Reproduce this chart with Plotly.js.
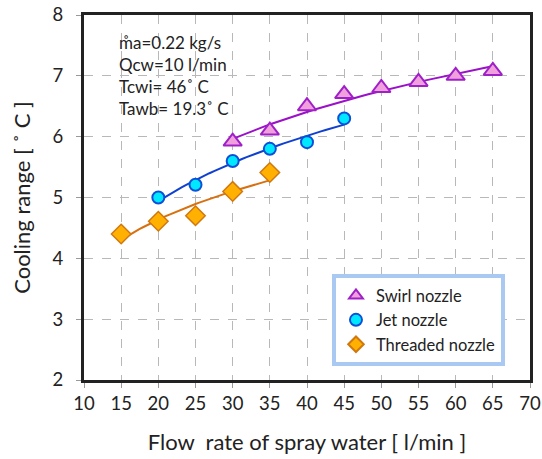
<!DOCTYPE html>
<html><head><meta charset="utf-8">
<script src="https://cdn.plot.ly/plotly-3.0.1.min.js"></script>
<style>html,body{margin:0;padding:0;background:#fff}#c{width:542px;height:459px}</style>
</head><body><div id="c"></div>
<script>
const swirlX = [30, 35, 40, 45, 50, 55, 60, 65];
const swirlY = [5.92, 6.1, 6.5, 6.7, 6.8, 6.9, 7.0, 7.08];
const jetX = [20, 25, 30, 35, 40, 45];
const jetY = [5.0, 5.21, 5.6, 5.8, 5.91, 6.3];
const thrX = [15, 20, 25, 30, 35];
const thrY = [4.4, 4.61, 4.7, 5.1, 5.41];
const xTicks = [10, 15, 20, 25, 30, 35, 40, 45, 50, 55, 60, 65, 70];
const yTicks = [2, 3, 4, 5, 6, 7, 8];

// logarithmic least-squares trendline (as in the spreadsheet chart)
function logFit(xs, ys) {
  const n = xs.length, lx = xs.map(Math.log);
  const mx = lx.reduce((a, b) => a + b, 0) / n, my = ys.reduce((a, b) => a + b, 0) / n;
  let sxy = 0, sxx = 0;
  for (let i = 0; i < n; i++) { sxy += (lx[i] - mx) * (ys[i] - my); sxx += (lx[i] - mx) ** 2; }
  const a = sxy / sxx, b = my - a * mx;
  const x0 = xs[0], x1 = xs[n - 1], tx = [], ty = [];
  for (let k = 0; k <= 40; k++) { const x = x0 + (x1 - x0) * k / 40; tx.push(x); ty.push(a * Math.log(x) + b); }
  return {x: tx, y: ty};
}
const fS = logFit(swirlX, swirlY), fJ = logFit(jetX, jetY), fT = logFit(thrX, thrY);

const font = 'Lato, "Open Sans", sans-serif';
const traces = [
  {x: fS.x, y: fS.y, mode: 'lines', line: {color: '#9b10c8', width: 2}, showlegend: false, hoverinfo: 'skip'},
  {x: fJ.x, y: fJ.y, mode: 'lines', line: {color: '#1040d0', width: 2}, showlegend: false, hoverinfo: 'skip'},
  {x: fT.x, y: fT.y, mode: 'lines', line: {color: '#d87010', width: 2}, showlegend: false, hoverinfo: 'skip'},
  {x: swirlX, y: swirlY, mode: 'markers', name: 'Swirl nozzle',
   marker: {symbol: 'triangle-up', size: 16, color: '#f0a0dc', line: {color: '#a020c8', width: 2}}},
  {x: jetX, y: jetY, mode: 'markers', name: 'Jet nozzle',
   marker: {symbol: 'circle', size: 12, color: '#00e8ff', line: {color: '#1050d8', width: 2}}},
  {x: thrX, y: thrY, mode: 'markers', name: 'Threaded nozzle',
   marker: {symbol: 'diamond', size: 15, color: '#ffb000', line: {color: '#d07810', width: 1.5}}}
];
const layout = {
  width: 542, height: 459,
  margin: {l: 84, r: 12, t: 15, b: 79},
  paper_bgcolor: '#fff', plot_bgcolor: '#fff',
  font: {family: font, color: '#222', size: 16},
  xaxis: {range: [10, 70], tickvals: xTicks, ticktext: xTicks.map(String),
    showgrid: true, gridcolor: '#b8b8b8', griddash: 'dash', gridwidth: 1,
    showline: true, mirror: true, linecolor: '#222', linewidth: 3,
    ticks: 'outside', ticklen: 5, tickcolor: '#999', zeroline: false,
    ticklabelstandoff: 0,
    tickfont: {size: 18.5, family: font},
    title: {text: 'Flow&nbsp;&nbsp;rate of spray water [ l/min ]', font: {size: 22, family: font}, standoff: 22}},
  yaxis: {range: [2, 8], tickvals: yTicks, ticktext: yTicks.map(String),
    showgrid: true, gridcolor: '#b8b8b8', griddash: 'dash', gridwidth: 1,
    showline: true, mirror: true, linecolor: '#222', linewidth: 3,
    ticks: 'outside', ticklen: 5, tickcolor: '#999', zeroline: false,
    ticklabelstandoff: 9,
    tickfont: {size: 18.5, family: font},
    title: {text: 'Cooling range [ ˚ C ]', font: {size: 22, family: font}, standoff: 16}},
  legend: {x: 0.556, y: 0.29, xanchor: 'left', yanchor: 'top',
    bgcolor: '#fff', bordercolor: '#a9c9f2', borderwidth: 4, itemsizing: 'constant',
    font: {size: 16.5, family: font, color: '#222'}, itemwidth: 30, tracegroupgap: 4},
  annotations: [{xref: 'paper', yref: 'paper', x: 0.075, y: 0.96, xanchor: 'left', yanchor: 'top',
    align: 'left', showarrow: false, font: {size: 17, family: font, color: '#222'},
    text: 'm\u030Aa=0.22 kg/s<br>Qcw=10 l/min<br>Tcwi= 46˚ C<br>Tawb= 19.3˚ C'}]
};
Plotly.newPlot('c', traces, layout, {displayModeBar: false, staticPlot: true});
</script></body></html>
